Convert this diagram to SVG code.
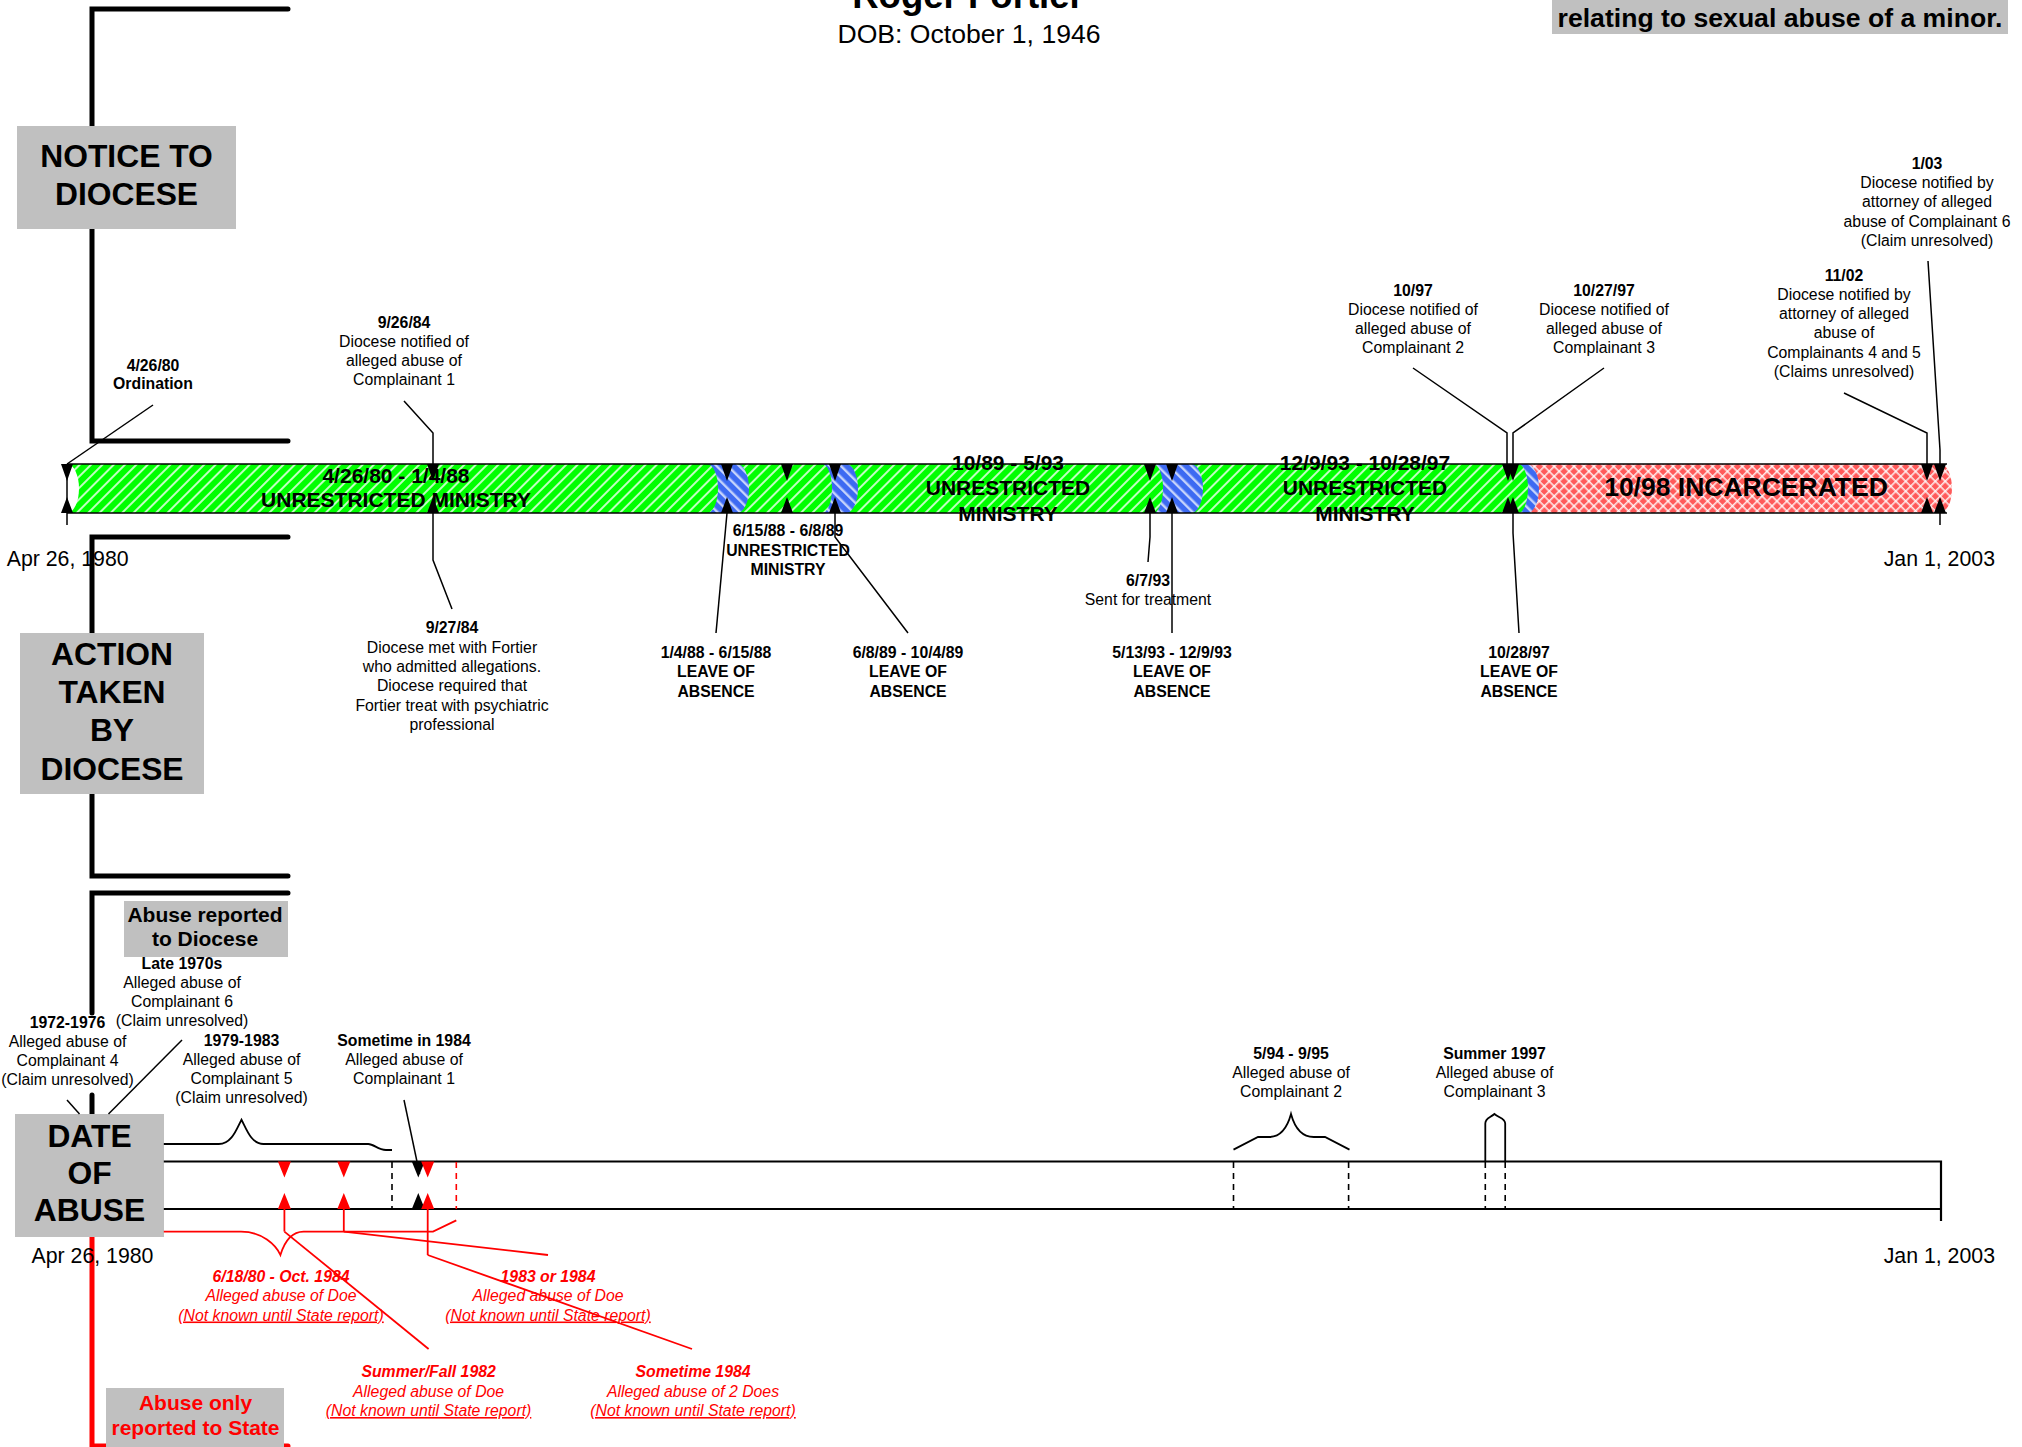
<svg xmlns="http://www.w3.org/2000/svg" width="2022" height="1447" viewBox="0 0 2022 1447">
<defs>
<pattern id="pg" width="8" height="8" patternUnits="userSpaceOnUse" patternTransform="rotate(45)"><rect width="8" height="8" fill="#00FF00"/><rect width="2" height="8" fill="#FFFFFF" opacity="0.75"/></pattern>
<pattern id="pb" width="8" height="8" patternUnits="userSpaceOnUse" patternTransform="rotate(-45)"><rect width="8" height="8" fill="#3D6AF2"/><rect width="2.4" height="8" fill="#FFFFFF" opacity="0.7"/></pattern>
<pattern id="pr" width="7" height="7" patternUnits="userSpaceOnUse" patternTransform="rotate(45)"><rect width="7" height="7" fill="#FF5A5A"/><rect width="1.6" height="7" fill="#FFFFFF" opacity="0.85"/><rect width="7" height="1.6" fill="#FFFFFF" opacity="0.85"/></pattern>
</defs>
<style>
text{font-family:"Liberation Sans",Arial,sans-serif;fill:#000}
.c{text-anchor:middle}
.r{font-size:15.8px}
.b{font-size:15.8px;font-weight:bold}
.bar{font-size:21px;font-weight:bold;text-anchor:middle}
.big{font-size:31.8px;font-weight:bold;text-anchor:middle}
.mid{font-size:21px;font-weight:bold;text-anchor:middle}
.axis{font-size:21.3px}
.red{fill:#FF0000}
.ri{font-size:15.8px;font-style:italic;fill:#FF0000;text-anchor:middle}
.rbi{font-size:15.8px;font-style:italic;font-weight:bold;fill:#FF0000;text-anchor:middle}
.thick{stroke:#000;stroke-width:5;fill:none;stroke-linecap:round;stroke-linejoin:miter}
.ln{stroke:#000;stroke-width:1.5;fill:none}
.rln{stroke:#FF0000;stroke-width:1.8;fill:none}
.dash{stroke:#000;stroke-width:1.6;stroke-dasharray:6 5;fill:none}
.gbox{fill:#C0C0C0}
</style>
<rect width="2022" height="1447" fill="#FFFFFF"/>

<g id="brackets">
<polyline class="thick" points="288,9 92,9 92,441 288,441"/>
<polyline class="thick" points="288,537 92,537 92,876 288,876"/>
<polyline class="thick" points="288,893 92,893 92,1013"/>
<line class="thick" x1="92" y1="1095" x2="92" y2="1114"/>
<polyline points="92,1237 92,1446 288,1446" fill="none" stroke="#FF0000" stroke-width="5" stroke-linecap="round"/>
</g>

<g id="title">
<text x="968" y="8" class="c" style="font-size:36.6px;font-weight:bold">Roger Fortier</text>
<text x="969" y="43" class="c" style="font-size:26.6px">DOB: October 1, 1946</text>
</g>
<g id="legend-top">
<rect class="gbox" x="1552" y="-2" width="456" height="36"/>
<text x="1780" y="26.5" class="c" style="font-size:26.6px;font-weight:bold">relating to sexual abuse of a minor.</text>
</g>

<g id="notice-box"><rect class="gbox" x="17" y="126" width="219" height="103"/>
<text class="big" x="126.5" y="166.7">NOTICE TO</text><text class="big" x="126.5" y="205">DIOCESE</text></g>
<g id="action-box"><rect class="gbox" x="20" y="633" width="184" height="161"/>
<text class="big" x="112" y="665">ACTION</text><text class="big" x="112" y="703">TAKEN</text><text class="big" x="112" y="741">BY</text><text class="big" x="112" y="780">DIOCESE</text></g>
<g id="date-box"><rect class="gbox" x="15" y="1114" width="149" height="123"/>
<text class="big" x="89.5" y="1147">DATE</text><text class="big" x="89.5" y="1184">OF</text><text class="big" x="89.5" y="1221">ABUSE</text></g>
<g id="reported-diocese-box"><rect class="gbox" x="124" y="901" width="164" height="56"/>
<text class="mid" x="205" y="921.5">Abuse reported</text><text class="mid" x="205" y="945.5">to Diocese</text></g>
<g id="reported-state-box"><rect class="gbox" x="106" y="1388" width="178" height="59"/>
<text class="mid red" x="195.5" y="1410">Abuse only</text><text class="mid red" x="195.5" y="1435">reported to State</text></g>

<g id="ministry-bar">
<path d="M1527,464 H1940 A12,24.5 0 0 1 1940,513 H1527 Z" fill="url(#pr)"/>
<path d="M1518,464 H1527 A12,24.5 0 0 1 1527,513 H1518 Z" fill="url(#pb)"/>
<path d="M1191,464 H1518 A10,24.5 0 0 1 1518,513 H1191 Z" fill="url(#pg)"/>
<path d="M1153,464 H1191 A12,24.5 0 0 1 1191,513 H1153 Z" fill="url(#pb)"/>
<path d="M846,464 H1153 A10,24.5 0 0 1 1153,513 H846 Z" fill="url(#pg)"/>
<path d="M822,464 H846 A12,24.5 0 0 1 846,513 H822 Z" fill="url(#pb)"/>
<path d="M737,464 H822 A10,24.5 0 0 1 822,513 H737 Z" fill="url(#pg)"/>
<path d="M707,464 H737 A12,24.5 0 0 1 737,513 H707 Z" fill="url(#pb)"/>
<path d="M67,464 H707 A11,24.5 0 0 1 707,513 H67 Z" fill="url(#pg)"/>
<path d="M67,464 A12,24.5 0 0 1 67,513 Z" fill="#FFFFFF"/>
<line x1="67" y1="464" x2="1947" y2="464" stroke="#000" stroke-width="1.4"/>
<line x1="67" y1="513" x2="1947" y2="513" stroke="#000" stroke-width="1.4"/>
<text class="bar" x="396" y="482.5">4/26/80 - 1/4/88</text>
<text class="bar" x="396" y="507">UNRESTRICTED MINISTRY</text>
<text class="bar" x="1008" y="470">10/89 - 5/93</text>
<text class="bar" x="1008" y="495">UNRESTRICTED</text>
<text class="bar" x="1008" y="520.5">MINISTRY</text>
<text class="bar" x="1365" y="470">12/9/93 - 10/28/97</text>
<text class="bar" x="1365" y="495">UNRESTRICTED</text>
<text class="bar" x="1365" y="520.5">MINISTRY</text>
<text class="bar" x="1746" y="496" style="font-size:26.5px">10/98 INCARCERATED</text>
</g>

<g id="bar-markers" fill="#000">
<path d="M61,464 H73 L67,481 Z M61,513 H73 L67,497 Z"/>
<path d="M427,464 H439 L433,481 Z M427,513 H439 L433,497 Z"/>
<path d="M721,464 H733 L727,481 Z M721,513 H733 L727,497 Z"/>
<path d="M781,464 H793 L787,481 Z M781,513 H793 L787,497 Z"/>
<path d="M829,464 H841 L835,481 Z M829,513 H841 L835,497 Z"/>
<path d="M1144,464 H1156 L1150,481 Z M1144,513 H1156 L1150,497 Z"/>
<path d="M1166,464 H1178 L1172,481 Z M1166,513 H1178 L1172,497 Z"/>
<path d="M1502,464 H1514 L1508,481 Z M1502,513 H1514 L1508,497 Z"/>
<path d="M1507,464 H1519 L1513,481 Z M1507,513 H1519 L1513,497 Z"/>
<path d="M1921,464 H1933 L1927,481 Z M1921,513 H1933 L1927,497 Z"/>
<path d="M1934,464 H1946 L1940,481 Z M1934,513 H1946 L1940,497 Z"/>
</g>

<g id="axis-labels">
<text class="axis" x="6.7" y="566">Apr 26, 1980</text>
<text class="axis" x="1995" y="566" text-anchor="end">Jan 1, 2003</text>
<text class="axis" x="31.5" y="1263">Apr 26, 1980</text>
<text class="axis" x="1995" y="1263" text-anchor="end">Jan 1, 2003</text>
</g>

<g id="ev-ordination" class="c"><text class="b c" x="153" y="370.5">4/26/80</text><text class="b c" x="153" y="389">Ordination</text></g>
<g id="ev-092684"><text class="b c" x="404" y="328.3">9/26/84</text><text class="r c" x="404" y="347.3">Diocese notified of</text><text class="r c" x="404" y="366.3">alleged abuse of</text><text class="r c" x="404" y="385.3">Complainant 1</text></g>
<g id="ev-1097"><text class="b c" x="1413" y="295.5">10/97</text><text class="r c" x="1413" y="314.8">Diocese notified of</text><text class="r c" x="1413" y="334">alleged abuse of</text><text class="r c" x="1413" y="353.3">Complainant 2</text></g>
<g id="ev-102797"><text class="b c" x="1604" y="295.5">10/27/97</text><text class="r c" x="1604" y="314.8">Diocese notified of</text><text class="r c" x="1604" y="334">alleged abuse of</text><text class="r c" x="1604" y="353.3">Complainant 3</text></g>
<g id="ev-1102"><text class="b c" x="1844" y="280.5">11/02</text><text class="r c" x="1844" y="299.8">Diocese notified by</text><text class="r c" x="1844" y="319">attorney of alleged</text><text class="r c" x="1844" y="338.3">abuse of</text><text class="r c" x="1844" y="357.5">Complainants 4 and 5</text><text class="r c" x="1844" y="376.8">(Claims unresolved)</text></g>
<g id="ev-0103"><text class="b c" x="1927" y="168.8">1/03</text><text class="r c" x="1927" y="188">Diocese notified by</text><text class="r c" x="1927" y="207.3">attorney of alleged</text><text class="r c" x="1927" y="226.5">abuse of Complainant 6</text><text class="r c" x="1927" y="245.8">(Claim unresolved)</text></g>

<g id="ev-092784"><text class="b c" x="452" y="633.3">9/27/84</text><text class="r c" x="452" y="652.7">Diocese met with Fortier</text><text class="r c" x="452" y="672">who admitted allegations.</text><text class="r c" x="452" y="691.3">Diocese required that</text><text class="r c" x="452" y="710.7">Fortier treat with psychiatric</text><text class="r c" x="452" y="730">professional</text></g>
<g id="ev-loa1"><text class="b c" x="716" y="657.7">1/4/88 - 6/15/88</text><text class="b c" x="716" y="677">LEAVE OF</text><text class="b c" x="716" y="696.7">ABSENCE</text></g>
<g id="ev-um2"><text class="b c" x="788" y="536">6/15/88 - 6/8/89</text><text class="b c" x="788" y="555.5">UNRESTRICTED</text><text class="b c" x="788" y="575">MINISTRY</text></g>
<g id="ev-loa2"><text class="b c" x="908" y="657.7">6/8/89 - 10/4/89</text><text class="b c" x="908" y="677">LEAVE OF</text><text class="b c" x="908" y="696.7">ABSENCE</text></g>
<g id="ev-treatment"><text class="b c" x="1148" y="585.5">6/7/93</text><text class="r c" x="1148" y="604.5">Sent for treatment</text></g>
<g id="ev-loa3"><text class="b c" x="1172" y="657.7">5/13/93 - 12/9/93</text><text class="b c" x="1172" y="677">LEAVE OF</text><text class="b c" x="1172" y="696.7">ABSENCE</text></g>
<g id="ev-loa4"><text class="b c" x="1519" y="657.7">10/28/97</text><text class="b c" x="1519" y="677">LEAVE OF</text><text class="b c" x="1519" y="696.7">ABSENCE</text></g>

<g id="ab-late1970s"><text class="b c" x="182" y="968.5">Late 1970s</text><text class="r c" x="182" y="987.5">Alleged abuse of</text><text class="r c" x="182" y="1006.5">Complainant 6</text><text class="r c" x="182" y="1025.5">(Claim unresolved)</text></g>
<g id="ab-1972"><text class="b c" x="67.5" y="1027.5">1972-1976</text><text class="r c" x="67.5" y="1046.5">Alleged abuse of</text><text class="r c" x="67.5" y="1065.5">Complainant 4</text><text class="r c" x="67.5" y="1084.5">(Claim unresolved)</text></g>
<g id="ab-1979"><text class="b c" x="241.5" y="1045.5">1979-1983</text><text class="r c" x="241.5" y="1064.5">Alleged abuse of</text><text class="r c" x="241.5" y="1083.5">Complainant 5</text><text class="r c" x="241.5" y="1102.5">(Claim unresolved)</text></g>
<g id="ab-1984"><text class="b c" x="404" y="1046">Sometime in 1984</text><text class="r c" x="404" y="1065">Alleged abuse of</text><text class="r c" x="404" y="1084">Complainant 1</text></g>
<g id="ab-1994"><text class="b c" x="1291" y="1059">5/94 - 9/95</text><text class="r c" x="1291" y="1078">Alleged abuse of</text><text class="r c" x="1291" y="1097">Complainant 2</text></g>
<g id="ab-1997"><text class="b c" x="1494.5" y="1059">Summer 1997</text><text class="r c" x="1494.5" y="1078">Alleged abuse of</text><text class="r c" x="1494.5" y="1097">Complainant 3</text></g>

<g id="doe-1980"><text class="rbi" x="281" y="1281.5">6/18/80 - Oct. 1984</text><text class="ri" x="281" y="1301">Alleged abuse of Doe</text><text class="ri" x="281" y="1320.5" text-decoration="underline">(Not known until State report)</text></g>
<g id="doe-1983"><text class="rbi" x="548" y="1281.5">1983 or 1984</text><text class="ri" x="548" y="1301">Alleged abuse of Doe</text><text class="ri" x="548" y="1320.5" text-decoration="underline">(Not known until State report)</text></g>
<g id="doe-1982"><text class="rbi" x="428.6" y="1377">Summer/Fall 1982</text><text class="ri" x="428.6" y="1396.5">Alleged abuse of Doe</text><text class="ri" x="428.6" y="1416" text-decoration="underline">(Not known until State report)</text></g>
<g id="doe-1984"><text class="rbi" x="693" y="1377">Sometime 1984</text><text class="ri" x="693" y="1396.5">Alleged abuse of 2 Does</text><text class="ri" x="693" y="1416" text-decoration="underline">(Not known until State report)</text></g>

<g id="abuse-timeline">
<path d="M163.8,1161.5 H1941 V1221 M163.8,1209 H1941" stroke="#000" stroke-width="2.2" fill="none"/>
<line class="dash" x1="392" y1="1162" x2="392" y2="1209"/>
<line class="dash" x1="1233.5" y1="1162" x2="1233.5" y2="1209"/>
<line class="dash" x1="1348.6" y1="1162" x2="1348.6" y2="1209"/>
<line class="dash" x1="1485.3" y1="1162" x2="1485.3" y2="1209"/>
<line class="dash" x1="1505.2" y1="1162" x2="1505.2" y2="1209"/>
<line class="dash" x1="456.3" y1="1162" x2="456.3" y2="1209" style="stroke:#FF0000"/>
<path fill="#000" d="M411.8,1161.5 H424.8 L418.3,1177.5 Z M411.8,1209 H424.8 L418.3,1193 Z"/>
<path fill="#FF0000" d="M277.9,1161.5 H290.9 L284.4,1177.5 Z M277.9,1209 H290.9 L284.4,1193 Z M337.3,1161.5 H350.3 L343.8,1177.5 Z M337.3,1209 H350.3 L343.8,1193 Z M421.2,1161.5 H434.2 L427.7,1177.5 Z M421.2,1209 H434.2 L427.7,1193 Z"/>
</g>

<g id="connectors">
<polyline class="ln" points="153,405 67,464"/>
<line class="ln" x1="67" y1="464" x2="67" y2="525"/>
<line class="ln" x1="1940" y1="513" x2="1940" y2="525"/>
<polyline class="ln" points="404,401 433,433 433,464"/>
<polyline class="ln" points="433,513 433,560 452,609"/>
<polyline class="ln" points="727,513 716,633"/>
<polyline class="ln" points="835,513 835,537 908,633"/>
<polyline class="ln" points="1150,513 1150,537 1148,562"/>
<polyline class="ln" points="1172,513 1172,633"/>
<polyline class="ln" points="1413,368 1507,433 1507,464"/>
<polyline class="ln" points="1604,368 1513,433 1513,464"/>
<polyline class="ln" points="1513,513 1513,533 1519,633"/>
<polyline class="ln" points="1844,393 1927,433 1927,464"/>
<polyline class="ln" points="1928,261 1940,450 1940,464"/>
<polyline class="ln" points="67,1100 79.5,1114"/>
<polyline class="ln" points="182,1040 108.5,1114"/>
<polyline class="ln" points="404,1100 419.6,1174"/>
<path class="ln" style="stroke-width:1.8" d="M163.8,1144 H218.8 C232,1144 237,1128 241.5,1119.7 C246,1128 251,1144 263.4,1144 H368.3 C374,1144 378,1150 386,1150 H392"/>
<path class="ln" style="stroke-width:1.8" d="M1233.5,1149.6 L1258,1137 H1269 C1282,1137 1288,1125 1291,1114 C1294,1125 1300,1137 1313.8,1137 H1325 L1349.5,1149.6"/>
<path class="ln" style="stroke-width:1.8" d="M1485.3,1161.5 V1123.5 C1485.3,1118 1490,1118 1494.4,1114 C1499,1118 1505.2,1118 1505.2,1123.5 V1161.5"/>
<line class="rln" x1="284.4" y1="1209" x2="284.4" y2="1231.6"/>
<line class="rln" x1="343.8" y1="1209" x2="343.8" y2="1231.6"/>
<line class="rln" x1="427.7" y1="1209" x2="427.7" y2="1255"/>
<path class="rln" d="M163.8,1231.6 H241 C262,1231.6 276,1245 280.4,1255 C285,1240 292,1231.6 303.6,1231.6 H433 L456.3,1220.4"/>
<line class="rln" x1="343.8" y1="1231.6" x2="548" y2="1255"/>
<line class="rln" x1="427.7" y1="1255" x2="692" y2="1349"/>
<line class="rln" x1="284.4" y1="1231.6" x2="428.6" y2="1349"/>
</g>
</svg>
